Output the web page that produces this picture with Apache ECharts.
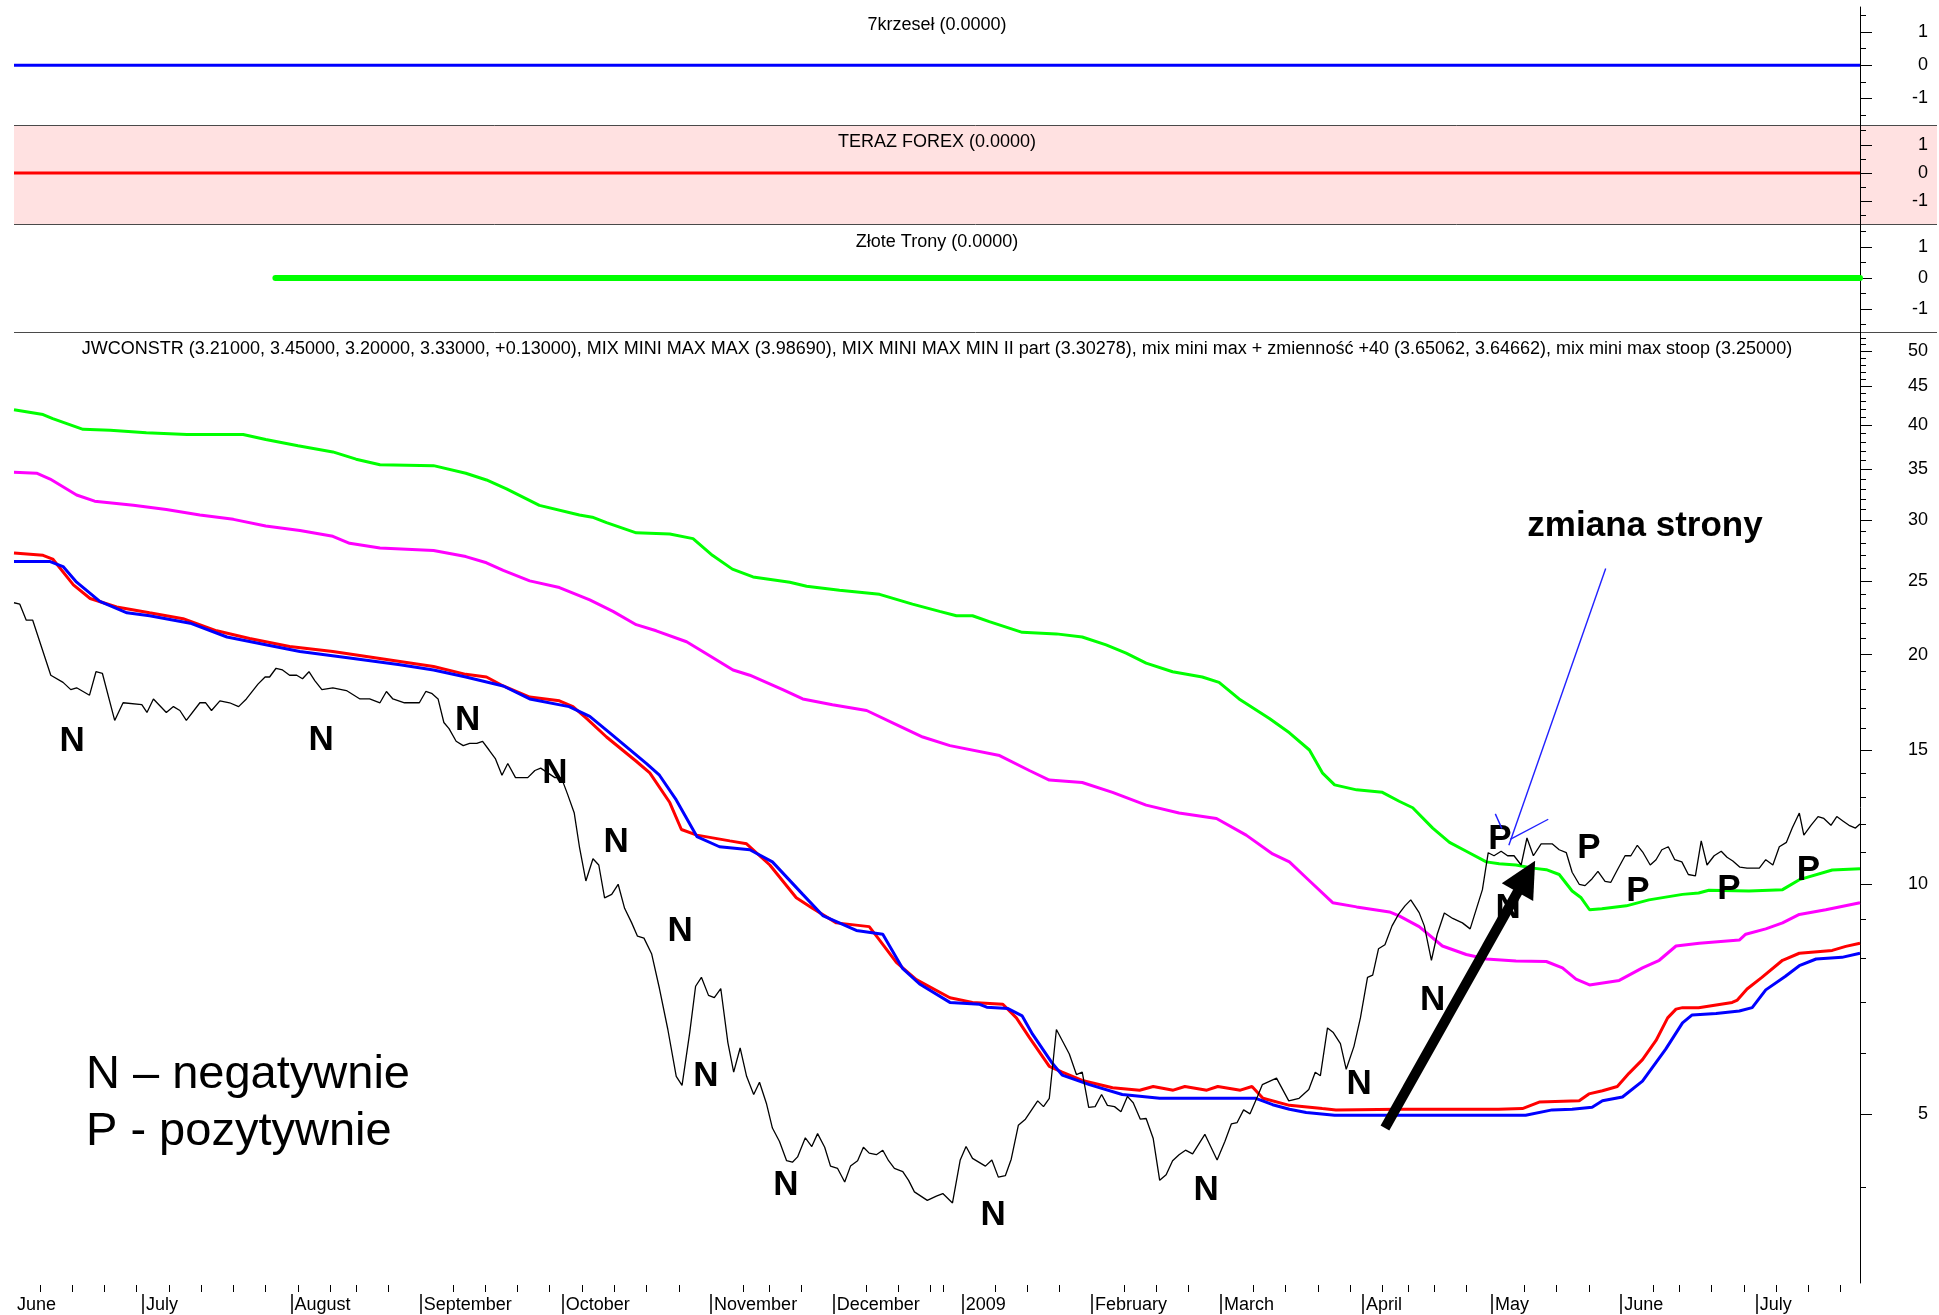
<!DOCTYPE html>
<html>
<head>
<meta charset="utf-8">
<title>JWCONSTR</title>
<script src="https://cdn.jsdelivr.net/npm/echarts@6/dist/echarts.min.js"></script>
<style>
  html, body { margin: 0; padding: 0; background: #fff; }
  #main { width: 1939px; height: 1315px; }
</style>
</head>
<body>
<div id="main"></div>
<script>
// x = trading day index, 0 = 3 June 2008 ... 286 = 23 July 2009
const monthStarts = [0, 20, 43, 63, 85, 108, 127, 147, 167, 187, 209, 229, 249, 270]
const monthNames = ['June', 'July', 'August', 'September', 'October', 'November', 'December', '2009',
  'February', 'March', 'April', 'May', 'June', 'July']
// first session of every week (month starts get the long line instead)
const weekTicks = [4, 9, 14, 19, 24, 29, 34, 39, 44, 49, 53, 58, 68, 73, 78, 83, 88, 93, 98, 103,
  113, 117, 122, 132, 137, 142, 144, 152, 157, 162, 172, 177, 182, 192, 197, 202, 207,
  212, 216, 220, 225, 234, 239, 244, 254, 258, 263, 268, 273, 278, 283]

// price axis (log)
const priceLabels = [5, 10, 15, 20, 25, 30, 35, 40, 45, 50]
const priceMinor = [4, 6, 7, 8, 9, 11, 12, 13, 14, 16, 17, 18, 19, 21, 22, 23, 24, 26, 27, 28, 29,
  31, 32, 33, 34, 36, 37, 38, 39, 41, 42, 43, 44, 46, 47, 48, 49, 51, 52]
const smallLabels = [-1, 0, 1]
const smallMinor = [-1.5, -0.5, 0.5, 1.5]

// upper panels
const krzeselLine = [[0, 0], [286, 0]]
const forexLine = [[0, 0], [286, 0]]
const tronyLine = [[40.5, 0], [286, 0]]

// JWCONSTR close
const closeLine = [[0, 23.4], [0.9, 23.3], [1.9, 22.2], [2.9, 22.2], [5.7, 18.8], [7.6, 18.4], [8.8, 18.0],
  [9.7, 18.1], [11.7, 17.7], [12.7, 19.0], [13.7, 18.9], [15.6, 16.4], [16.9, 17.3], [19.8, 17.2],
  [20.6, 16.8], [21.6, 17.5], [23.6, 16.8], [24.7, 17.1], [25.7, 16.9], [26.7, 16.4], [28.8, 17.3],
  [29.7, 17.3], [30.6, 16.9], [31.9, 17.4], [33.4, 17.3], [34.8, 17.1], [36.0, 17.5], [37.8, 18.3],
  [38.9, 18.7], [39.6, 18.7], [40.6, 19.2], [41.6, 19.1], [42.7, 18.8], [43.8, 18.8], [44.7, 18.6],
  [45.7, 19.0], [46.6, 18.5], [47.7, 18.0], [49.4, 18.1], [51.5, 17.95], [53.6, 17.5], [55.1, 17.5],
  [56.7, 17.3], [57.7, 17.9], [58.7, 17.5], [60.5, 17.3], [62.8, 17.3], [63.8, 17.9], [64.7, 17.8],
  [65.7, 17.5], [66.6, 16.3], [67.4, 16.0], [68.5, 15.4], [69.6, 15.2], [70.6, 15.3], [71.7, 15.3],
  [72.6, 15.4], [73.6, 15.0], [74.6, 14.6], [75.6, 13.9], [76.5, 14.4], [77.7, 13.8], [79.6, 13.8],
  [80.7, 14.1], [81.6, 14.2], [82.7, 14.0], [83.8, 13.8], [84.8, 13.8], [85.8, 13.1], [86.8, 12.4],
  [87.6, 11.2], [88.6, 10.1], [89.7, 10.8], [90.6, 10.6], [91.5, 9.6], [92.6, 9.7], [93.6, 10.0],
  [94.6, 9.3], [95.7, 8.9], [96.6, 8.55], [97.6, 8.5], [98.8, 8.1], [100, 7.3], [101.3, 6.45],
  [102.6, 5.6], [103.5, 5.45], [104.7, 6.4], [105.6, 7.35], [106.5, 7.55], [107.6, 7.15], [108.5, 7.1],
  [109.5, 7.3], [110.6, 6.2], [111.5, 5.67], [112.5, 6.1], [113.5, 5.6], [114.6, 5.3], [115.5, 5.5],
  [116.6, 5.15], [117.5, 4.79], [118.6, 4.6], [119.7, 4.34], [120.6, 4.32], [121.4, 4.39], [122.6, 4.65],
  [123.6, 4.53], [124.5, 4.71], [125.6, 4.52], [126.5, 4.27], [127.6, 4.24], [128.7, 4.07], [129.6, 4.27],
  [130.7, 4.34], [131.6, 4.52], [132.5, 4.44], [133.6, 4.42], [134.6, 4.48], [135.5, 4.34], [136.4, 4.24],
  [137.7, 4.2], [138.6, 4.09], [139.5, 3.95], [141.5, 3.85], [142.9, 3.9], [143.9, 3.93], [145.4, 3.82],
  [146.6, 4.35], [147.5, 4.53], [148.5, 4.37], [150.5, 4.27], [151.5, 4.35], [152.5, 4.13], [153.6, 4.15],
  [154.5, 4.36], [155.6, 4.83], [156.7, 4.92], [158.6, 5.2], [159.5, 5.11], [160.4, 5.24], [161.5, 6.45],
  [162.4, 6.24], [163.5, 5.99], [164.6, 5.63], [165.5, 5.67], [166.5, 5.1], [167.5, 5.11], [168.5, 5.3],
  [169.4, 5.13], [170.5, 5.11], [171.5, 5.03], [172.5, 5.27], [173.4, 5.17], [174.5, 4.92], [175.4, 4.93],
  [176.5, 4.64], [177.5, 4.09], [178.5, 4.16], [179.5, 4.34], [180.5, 4.42], [181.5, 4.48], [182.6, 4.43],
  [184.5, 4.7], [186.4, 4.35], [187.6, 4.6], [188.6, 4.85], [189.5, 4.87], [190.5, 5.06], [191.5, 5.0],
  [192.7, 5.28], [193.4, 5.46], [195.6, 5.57], [197.5, 5.2], [199.1, 5.24], [200.6, 5.38], [201.6, 5.67],
  [202.4, 5.61], [203.5, 6.48], [204.4, 6.39], [205.5, 6.18], [206.4, 5.72], [207.6, 6.13], [208.6, 6.68],
  [209.7, 7.55], [210.5, 7.6], [211.4, 8.23], [212.4, 8.33], [213.5, 8.82], [214.5, 9.13], [215.5, 9.37],
  [216.4, 9.54], [217.7, 9.18], [218.5, 8.82], [219.6, 7.95], [220.5, 8.6], [221.6, 9.17], [222.9, 9.02],
  [224.4, 8.9], [225.6, 8.74], [227.5, 9.84], [228.4, 11.0], [229.3, 10.9], [230.4, 11.05], [231.4, 10.9],
  [232.4, 10.9], [233.5, 10.6], [234.4, 11.5], [235.4, 10.9], [236.6, 11.3], [238.3, 11.3], [239.4, 11.1],
  [240.5, 11.0], [241.4, 10.37], [242.5, 10.0], [243.4, 9.96], [244.5, 10.17], [245.4, 10.4], [246.5, 10.09],
  [247.4, 10.06], [248.4, 10.44], [249.6, 10.9], [250.5, 10.9], [251.5, 11.25], [252.4, 11.0], [253.5, 10.6],
  [254.4, 10.77], [255.3, 11.1], [256.3, 11.2], [257.3, 10.77], [258.4, 10.7], [259.4, 10.3], [260.5, 10.26],
  [261.4, 11.4], [262.3, 10.6], [263.4, 10.9], [264.5, 11.05], [265.4, 10.85], [266.3, 10.73], [267.4, 10.53],
  [268.5, 10.5], [270.4, 10.5], [271.4, 10.77], [272.5, 10.6], [273.5, 11.2], [274.6, 11.35], [275.5, 11.85],
  [276.6, 12.4], [277.3, 11.6], [278.4, 11.95], [279.5, 12.27], [280.4, 12.2], [281.5, 11.95], [282.4, 12.27],
  [283.4, 12.1], [284.3, 11.95], [285.3, 11.85], [286, 12.0]]

// MIX MINI MAX indicator lines
const greenLine = [[0, 41.9], [4.5, 41.3], [6, 40.8], [10.7, 39.5], [14.9, 39.4], [20.5, 39.1], [26.8, 38.9],
  [35.5, 38.9], [39, 38.3], [44, 37.6], [49.4, 36.9], [53, 36.1], [56.7, 35.5], [65, 35.4], [70, 34.6],
  [73.2, 33.9], [76.3, 33.0], [81.4, 31.4], [87.6, 30.5], [89.6, 30.3], [91.8, 29.8], [96.4, 28.9],
  [101.6, 28.8], [105.2, 28.4], [108.2, 27.0], [111.3, 25.9], [114.5, 25.3], [120.2, 24.9], [122.8, 24.6],
  [127.9, 24.3], [134.1, 24.0], [139.2, 23.3], [143.4, 22.8], [146, 22.5], [148.5, 22.5], [151.1, 22.1],
  [156.2, 21.4], [161.5, 21.3], [165.5, 21.1], [169.2, 20.6], [172.3, 20.1], [175.4, 19.5], [179.5, 19.0],
  [184.1, 18.7], [186.7, 18.4], [189.8, 17.5], [194.5, 16.5], [197.6, 15.8], [200.7, 15.0], [202.7, 14.0],
  [204.6, 13.5], [208, 13.3], [212, 13.2], [214.6, 12.85], [216.7, 12.6], [219.8, 11.85], [222.4, 11.35],
  [225, 11.05], [228.1, 10.7], [230.1, 10.64], [232.7, 10.6], [235.3, 10.5], [237.4, 10.45], [239.4, 10.3],
  [241.4, 9.8], [242.8, 9.6], [244.1, 9.26], [246, 9.29], [249.8, 9.37], [253.3, 9.54], [258.5, 9.7],
  [261, 9.74], [262.6, 9.82], [268.8, 9.8], [274, 9.84], [276.6, 10.14], [281.7, 10.44], [286, 10.48]]

const magentaLine = [[0, 34.7], [3.5, 34.6], [5.6, 34.0], [9.7, 32.4], [12.5, 31.8], [18.5, 31.4], [23.6, 31.0],
  [28.8, 30.5], [34, 30.1], [39, 29.5], [44.3, 29.1], [49.4, 28.6], [52, 28.0], [56.7, 27.6], [65, 27.4],
  [70, 26.9], [73.2, 26.4], [75.8, 25.8], [79.9, 25.0], [84.5, 24.5], [89.2, 23.6], [92.8, 22.8], [96.4, 21.9],
  [99.5, 21.5], [104.2, 20.8], [106.7, 20.2], [111.4, 19.1], [114, 18.8], [119.1, 18.0], [122.2, 17.5],
  [126.8, 17.2], [132.1, 16.9], [136.7, 16.2], [140.8, 15.6], [145, 15.2], [152.7, 14.75], [157.3, 14.1],
  [160.4, 13.7], [165.5, 13.6], [170.2, 13.2], [175.4, 12.7], [180.5, 12.4], [186.3, 12.2], [190.9, 11.6],
  [195, 10.96], [197.6, 10.7], [200.2, 10.2], [204.3, 9.46], [208, 9.34], [213.1, 9.2], [214.6, 9.09],
  [217.7, 8.8], [221.3, 8.3], [225, 8.09], [228.1, 7.98], [232.7, 7.93], [237.4, 7.92], [239.9, 7.77],
  [242, 7.51], [244.1, 7.38], [248.7, 7.48], [252.3, 7.77], [254.9, 7.95], [257.5, 8.3], [261.1, 8.37],
  [267.3, 8.45], [268.3, 8.6], [271.4, 8.74], [274, 8.9], [276.6, 9.13], [280.7, 9.26], [286, 9.46]]

const redLine = [[0, 27.2], [4.5, 27.0], [6, 26.7], [9.2, 24.7], [11.8, 23.7], [15.9, 23.1], [21, 22.7],
  [26.2, 22.3], [31.4, 21.5], [36.5, 21.0], [42.7, 20.5], [49.4, 20.2], [54.6, 19.9], [59.8, 19.6], [65, 19.3],
  [70, 18.85], [73.2, 18.7], [75.8, 18.2], [79.9, 17.6], [84.5, 17.4], [86.6, 17.1], [88.7, 16.5], [91.8, 15.6],
  [96.4, 14.5], [98.5, 14.0], [101.6, 12.8], [103.4, 11.8], [105.8, 11.6], [110.9, 11.4], [113.5, 11.3],
  [117.1, 10.6], [121.2, 9.6], [123.7, 9.3], [127.4, 8.9], [132.5, 8.8], [134.1, 8.45], [136.7, 7.9],
  [139.8, 7.5], [145, 7.1], [148.5, 7.0], [153.2, 6.96], [155.3, 6.68], [157.3, 6.3], [160.4, 5.77],
  [162.4, 5.67], [165.5, 5.53], [170.2, 5.41], [174.4, 5.37], [176.5, 5.43], [179.6, 5.37], [181.4, 5.43],
  [184.8, 5.37], [186.5, 5.43], [190, 5.37], [191.8, 5.43], [193.5, 5.24], [197.6, 5.13], [202.7, 5.08],
  [204.8, 5.06], [214.6, 5.07], [230, 5.07], [233.7, 5.08], [236.3, 5.18], [242.5, 5.2], [244, 5.31],
  [246.1, 5.36], [248.4, 5.43], [250.2, 5.65], [252.3, 5.89], [254.4, 6.24], [256.2, 6.68], [257.5, 6.86],
  [258.5, 6.89], [261, 6.89], [266.2, 7.0], [267, 7.05], [268.5, 7.29], [270.8, 7.55], [274, 7.95],
  [276.6, 8.12], [281.7, 8.19], [283.8, 8.29], [286, 8.37]]

const blueLine = [[0, 26.5], [5.6, 26.5], [7.6, 26.1], [9.7, 24.9], [13.3, 23.5], [17.5, 22.7], [21, 22.5],
  [27.3, 22.0], [33, 21.1], [39.2, 20.6], [44.3, 20.2], [52, 19.8], [59.8, 19.4], [65, 19.1], [70, 18.7],
  [75.8, 18.2], [79.9, 17.5], [86, 17.1], [89.2, 16.6], [92.3, 15.8], [98, 14.4], [100, 13.9], [102.6, 12.9],
  [105.8, 11.55], [109.3, 11.2], [114, 11.1], [117.5, 10.7], [122.2, 9.7], [125.3, 9.1], [130.5, 8.7],
  [134.6, 8.6], [137.7, 7.75], [140.3, 7.4], [145, 7.0], [149.6, 6.96], [150.7, 6.9], [154, 6.87],
  [156.2, 6.72], [157.8, 6.36], [160.9, 5.82], [162.4, 5.62], [166.6, 5.46], [171.7, 5.3], [177.5, 5.24],
  [192.4, 5.24], [195, 5.14], [197.6, 5.07], [200.2, 5.02], [204.6, 4.98], [234.2, 4.98], [238.3, 5.06],
  [241.4, 5.07], [244.5, 5.1], [246.1, 5.2], [249.2, 5.26], [252.3, 5.52], [255.9, 6.08], [258.5, 6.58],
  [260, 6.74], [263.7, 6.77], [267.3, 6.82], [269.3, 6.89], [271.4, 7.27], [274.4, 7.57], [276.6, 7.82],
  [279.2, 7.98], [283.2, 8.02], [286, 8.12]]

// N / P signals written on the chart
const signalMarks = [[9.0, 15.4, 'N'], [47.6, 15.45, 'N'], [70.3, 16.4, 'N'], [83.8, 14.0, 'N'], [93.3, 11.35, 'N'],
  [103.2, 8.67, 'N'], [107.2, 5.6, 'N'], [119.6, 4.03, 'N'], [151.7, 3.68, 'N'], [184.7, 3.97, 'N'],
  [208.4, 5.46, 'N'], [219.8, 7.04, 'N'], [231.5, 9.3, 'N'], [230.2, 11.45, 'P'], [244.0, 11.15, 'P'],
  [251.6, 9.79, 'P'], [265.7, 9.85, 'P'], [278, 10.43, 'P']]

// hand drawn pointer lines and the big arrow
const pointerLines = [
  [[246.6, 25.95], [231.6, 11.25]],
  [[229.5, 12.37], [230.5, 11.84]],
  [[231.8, 11.45], [237.7, 12.17]]
]
const bigArrow = [[212.4, 4.79], [234.3, 10.24]]

const FONT = '"Liberation Sans", Arial, sans-serif'
const gridLeft = 14
const gridRight = 79

const chartDom = document.getElementById('main')
const myChart = echarts.init(chartDom)

function panelYAxes (gridIndex, type, min, max, major, minor) {
  const base = { gridIndex, type, min, max, position: 'right', splitLine: { show: false } }
  if (type === 'log') base.logBase = 10
  return [
    {
      ...base,
      axisLine: { show: true, onZero: false, lineStyle: { color: '#000', width: 1 } },
      axisTick: { show: true, customValues: major, length: 12, lineStyle: { color: '#000', width: 1 } },
      axisLabel: { show: true, customValues: major, color: '#000', fontSize: 18, fontFamily: FONT, align: 'right', margin: 68 }
    },
    {
      ...base,
      axisLine: { show: false, onZero: false },
      axisTick: { show: true, customValues: minor, length: 6, lineStyle: { color: '#000', width: 1 } },
      axisLabel: { show: false }
    }
  ]
}

function hiddenX (gridIndex) {
  return { gridIndex, type: 'value', min: 0, max: 286, show: false, splitLine: { show: false } }
}

function flatSeries (axis, data, color, width, cap) {
  return {
    type: 'line', xAxisIndex: axis, yAxisIndex: axis * 2, data, symbol: 'none', silent: true,
    lineStyle: { color, width, cap }
  }
}

function priceSeries (name, data, color, width) {
  return {
    name, type: 'line', xAxisIndex: 3, yAxisIndex: 6, data, symbol: 'none', silent: true,
    lineStyle: { color, width }
  }
}

function panelTitle (text, y) {
  return {
    type: 'text', x: 937, y, silent: true,
    style: { text, fill: '#000', font: '18px ' + FONT, align: 'center', verticalAlign: 'middle' }
  }
}

function hLine (y) {
  return {
    type: 'line', silent: true,
    shape: { x1: 14, y1: y, x2: 1937, y2: y },
    style: { stroke: '#4a4a4a', lineWidth: 1 }
  }
}

const grids = [
  { top: 7, height: 118 },
  { top: 125, height: 99 },
  { top: 224, height: 108 },
  { top: 332, height: 951 }
].map(g => ({ ...g, left: gridLeft, right: gridRight, containLabel: false, outerBoundsMode: 'none' }))

const option = {
  animation: false,
  backgroundColor: '#fff',
  grid: grids,
  xAxis: [
    hiddenX(0), hiddenX(1), hiddenX(2),
    {
      gridIndex: 3, type: 'value', min: 0, max: 286, position: 'bottom', offset: 2,
      axisLine: { show: false, onZero: false },
      splitLine: { show: false },
      axisTick: { show: true, customValues: weekTicks, length: 7, lineStyle: { color: '#000', width: 1 } },
      axisLabel: { show: false }
    },
    {
      gridIndex: 3, type: 'value', min: 0, max: 286, position: 'bottom', offset: 11,
      axisLine: { show: false, onZero: false },
      splitLine: { show: false },
      axisTick: { show: true, customValues: monthStarts.slice(1), length: 20, lineStyle: { color: '#000', width: 1.5 } },
      axisLabel: {
        show: true,
        customValues: monthStarts,
        formatter: v => monthNames[monthStarts.indexOf(v)],
        color: '#000', fontSize: 18, fontFamily: FONT,
        align: 'left', margin: 2, padding: [0, 0, 0, 3]
      }
    }
  ],
  yAxis: [
    ...panelYAxes(0, 'value', -1.8, 1.75, smallLabels, smallMinor),
    ...panelYAxes(1, 'value', -1.8, 1.7, smallLabels, smallMinor),
    ...panelYAxes(2, 'value', -1.74, 1.74, smallLabels, smallMinor),
    ...panelYAxes(3, 'log', 3, 53, priceLabels, priceMinor)
  ],
  graphic: {
    elements: [
      { type: 'rect', z: -10, silent: true, shape: { x: 14, y: 125, width: 1923, height: 99 }, style: { fill: '#ffe1e1' } },
      hLine(125.5), hLine(224.5), hLine(332.5),
      panelTitle('7krzeseł (0.0000)', 25),
      panelTitle('TERAZ FOREX (0.0000)', 142),
      panelTitle('Złote Trony (0.0000)', 242),
      panelTitle('JWCONSTR (3.21000, 3.45000, 3.20000, 3.33000, +0.13000), MIX MINI MAX MAX (3.98690), MIX MINI MAX MIN II part (3.30278), mix mini max + zmienność +40 (3.65062, 3.64662), mix mini max stoop (3.25000)', 349),
      {
        type: 'text', x: 86, y: 1075, silent: true,
        style: { text: 'N – negatywnie', fill: '#000', font: '47px ' + FONT, align: 'left', verticalAlign: 'middle' }
      },
      {
        type: 'text', x: 86, y: 1132, silent: true,
        style: { text: 'P - pozytywnie', fill: '#000', font: '47px ' + FONT, align: 'left', verticalAlign: 'middle' }
      },
      {
        type: 'text', x: 1645, y: 526, silent: true,
        style: { text: 'zmiana strony', fill: '#000', font: 'bold 35px ' + FONT, align: 'center', verticalAlign: 'middle' }
      }
    ]
  },
  series: [
    flatSeries(0, krzeselLine, '#0000ff', 3, 'butt'),
    flatSeries(1, forexLine, '#ff0000', 3, 'butt'),
    flatSeries(2, tronyLine, '#00ff00', 6, 'round'),
    priceSeries('mix mini max + zmienność +40', greenLine, '#00ff00', 3),
    priceSeries('MIX MINI MAX MAX', magentaLine, '#ff00ff', 3),
    priceSeries('MIX MINI MAX MIN II part', redLine, '#ff0000', 3),
    priceSeries('mix mini max stoop', blueLine, '#0000ff', 3),
    priceSeries('JWCONSTR', closeLine, '#000000', 1.3),
    {
      // the letters only, the symbol itself is transparent
      type: 'scatter', xAxisIndex: 3, yAxisIndex: 6, z: 5, silent: true,
      symbolSize: 2,
      itemStyle: { color: 'rgba(0,0,0,0)', opacity: 1 },
      label: {
        show: true, position: 'inside', color: '#000', opacity: 1,
        fontSize: 35, fontWeight: 'bold', fontFamily: FONT, textBorderWidth: 0
      },
      data: signalMarks.map(m => ({ value: [m[0], m[1]], label: { formatter: m[2] } }))
    },
    {
      type: 'lines', coordinateSystem: 'cartesian2d', xAxisIndex: 3, yAxisIndex: 6, z: 6, silent: true,
      symbol: 'none',
      lineStyle: { color: '#2020ff', width: 1.4, opacity: 1 },
      data: pointerLines.map(c => ({ coords: c }))
    },
    {
      type: 'lines', coordinateSystem: 'cartesian2d', xAxisIndex: 3, yAxisIndex: 6, z: 10, silent: true,
      symbol: ['none', 'triangle'], symbolSize: 36,
      lineStyle: { color: '#000', width: 10, opacity: 1 },
      itemStyle: { color: '#000' },
      data: [{ coords: bigArrow }]
    }
  ]
}

myChart.setOption(option)
</script>
</body>
</html>
